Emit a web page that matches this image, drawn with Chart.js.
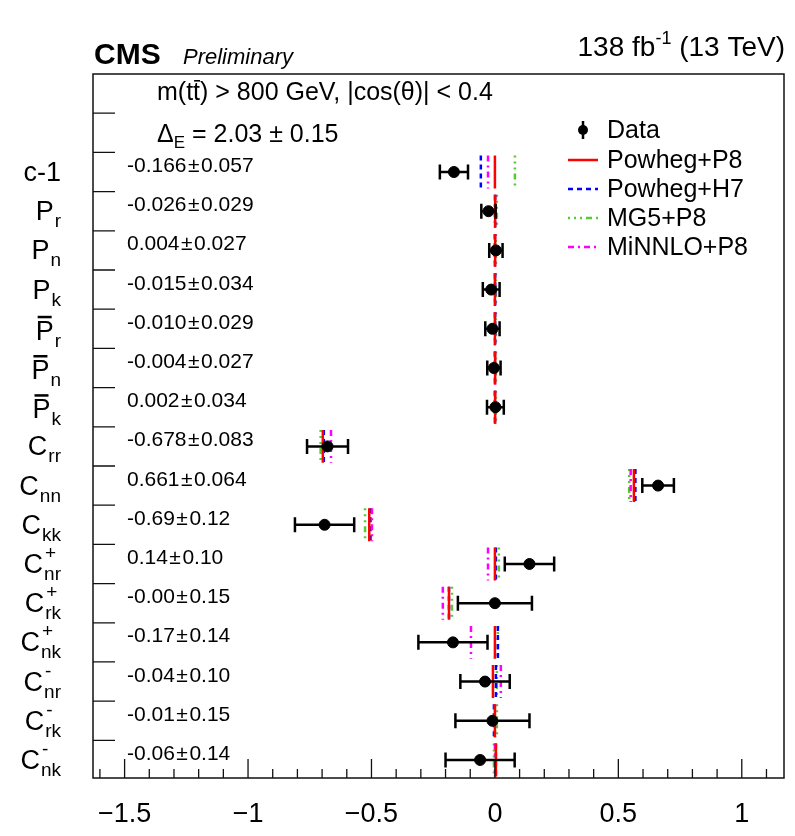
<!DOCTYPE html>
<html>
<head>
<meta charset="utf-8">
<script src="https://cdn.jsdelivr.net/npm/chart.js"></script>
<style>
  html, body { margin: 0; padding: 0; background: #fff; }
  #wrap { width: 795px; height: 836px; }
</style>
</head>
<body>
<div id="wrap"><canvas id="spinChart" width="795" height="836"></canvas></div>
<script>
// rows, top to bottom
const rowMain = ['c-1', 'P', 'P', 'P', 'P', 'P', 'P', 'C', 'C', 'C', 'C', 'C', 'C', 'C', 'C', 'C'];
const rowSub  = ['', 'r', 'n', 'k', 'r', 'n', 'k', 'rr', 'nn', 'kk', 'nr', 'rk', 'nk', 'nr', 'rk', 'nk'];
const rowSup  = ['', '', '', '', '', '', '', '', '', '', '+', '+', '+', '-', '-', '-'];
const rowBar  = [0, 0, 0, 0, 1, 1, 1, 0, 0, 0, 0, 0, 0, 0, 0, 0];

// measured values
const dataVal = [-0.166, -0.026, 0.004, -0.015, -0.010, -0.004, 0.002, -0.678, 0.661, -0.69, 0.14, -0.00, -0.17, -0.04, -0.01, -0.06];
const dataErr = [0.057, 0.029, 0.027, 0.034, 0.029, 0.027, 0.034, 0.083, 0.064, 0.12, 0.10, 0.15, 0.14, 0.10, 0.15, 0.14];
const dataText = ['-0.166', '-0.026', '0.004', '-0.015', '-0.010', '-0.004', '0.002', '-0.678', '0.661', '-0.69', '0.14', '-0.00', '-0.17', '-0.04', '-0.01', '-0.06'];
const errText  = ['0.057', '0.029', '0.027', '0.034', '0.029', '0.027', '0.034', '0.083', '0.064', '0.12', '0.10', '0.15', '0.14', '0.10', '0.15', '0.14'];

// MC predictions
const mcPowhegP8  = [0.000, 0.001, 0.001, 0.000, 0.000, 0.001, 0.001, -0.697, 0.563, -0.509, 0.000, -0.186, 0.000, -0.008, 0.000, 0.004];
const mcPowhegH7  = [-0.057, 0.001, 0.000, 0.001, 0.001, 0.000, 0.000, -0.693, 0.569, -0.504, 0.004, -0.186, 0.012, 0.004, -0.004, 0.004];
const mcMG5P8     = [0.081, 0.008, 0.004, 0.004, 0.004, 0.004, 0.004, -0.706, 0.544, -0.526, 0.016, -0.174, 0.012, 0.008, 0.008, -0.004];
const mcMiNNLOP8  = [-0.028, 0.000, 0.000, 0.000, 0.000, 0.000, 0.000, -0.664, 0.550, -0.498, -0.028, -0.211, -0.097, 0.024, 0.000, 0.000];

const xTickValues = [-1.5, -1, -0.5, 0, 0.5, 1];

const FONT = "'Liberation Sans', Arial, sans-serif";

function mcSegments(vals) {
  const pts = [];
  vals.forEach((v, i) => {
    pts.push({ x: v, y: i - 0.42 }, { x: v, y: i + 0.42 }, { x: v, y: null });
  });
  return pts;
}

function mcDataset(label, vals, color, dash, order) {
  return {
    label: label,
    data: mcSegments(vals),
    showLine: true,
    spanGaps: false,
    borderColor: color,
    borderWidth: 2.5,
    borderDash: dash,
    pointRadius: 0,
    order: order
  };
}

const datasets = [
  {
    label: 'Data',
    data: dataVal.map((v, i) => ({ x: v, y: i })),
    pointRadius: 5.5,
    pointBackgroundColor: '#000',
    pointBorderColor: '#000',
    showLine: false,
    order: 0
  },
  mcDataset('Powheg+P8', mcPowhegP8, '#ff0000', [], 1),
  mcDataset('Powheg+H7', mcPowhegH7, '#0000ff', [5, 4], 3),
  mcDataset('MG5+P8', mcMG5P8, '#55cc33', [2, 4, 2, 4, 2, 4, 6, 4], 4),
  mcDataset('MiNNLO+P8', mcMiNNLOP8, '#ff00ff', [6, 4, 2, 4], 2)
];

// error bars for the data points
const errorBars = {
  id: 'errorBars',
  afterDatasetsDraw(chart) {
    const { ctx, scales: { x, y } } = chart;
    ctx.save();
    ctx.strokeStyle = '#000';
    ctx.lineWidth = 2.5;
    dataVal.forEach((v, i) => {
      const yp = y.getPixelForValue(i);
      const x0 = x.getPixelForValue(v - dataErr[i]);
      const x1 = x.getPixelForValue(v + dataErr[i]);
      ctx.beginPath();
      ctx.moveTo(x0, yp); ctx.lineTo(x1, yp);
      ctx.moveTo(x0, yp - 7.5); ctx.lineTo(x0, yp + 7.5);
      ctx.moveTo(x1, yp - 7.5); ctx.lineTo(x1, yp + 7.5);
      ctx.stroke();
    });
    ctx.restore();
  }
};

// frame, inward ticks, row labels, texts and legend
const decorations = {
  id: 'decorations',
  afterDraw(chart) {
    const { ctx, chartArea: a, scales: { x, y } } = chart;
    ctx.save();

    // frame
    ctx.strokeStyle = '#111';
    ctx.lineWidth = 1.5;
    ctx.strokeRect(a.left, a.top, a.right - a.left, a.bottom - a.top);

    // x ticks (major every 0.5, minor every 0.1)
    ctx.lineWidth = 1.3;
    ctx.beginPath();
    for (let k = -16; k <= 11; k++) {
      const v = k / 10;
      const px = x.getPixelForValue(v);
      const len = (k % 5 === 0) ? 19 : 9;
      ctx.moveTo(px, a.bottom); ctx.lineTo(px, a.bottom - len);
    }
    // y ticks at the row boundaries
    for (let i = -1; i < rowMain.length; i++) {
      const py = y.getPixelForValue(i - 0.5);
      ctx.moveTo(a.left, py); ctx.lineTo(a.left + 22, py);
    }
    ctx.stroke();

    ctx.fillStyle = '#000';
    ctx.textBaseline = 'alphabetic';

    // row labels
    rowMain.forEach((m, i) => {
      const py = y.getPixelForValue(i);
      const base = py + 9 + (rowBar[i] ? 2 : 0);
      ctx.font = '27px ' + FONT;
      const mw = ctx.measureText(m).width;
      ctx.font = '19px ' + FONT;
      const sw = Math.max(ctx.measureText(rowSub[i]).width, ctx.measureText(rowSup[i]).width);
      const x0 = 61 - mw - sw - (sw > 0 ? 1 : 0);
      ctx.font = '27px ' + FONT;
      ctx.textAlign = 'left';
      ctx.fillText(m, x0, base);
      if (rowBar[i]) {
        ctx.fillRect(x0 + 2, base - 24, mw - 4, 2.5);
      }
      ctx.font = '19px ' + FONT;
      if (rowSub[i]) ctx.fillText(rowSub[i], x0 + mw + 1, base + 7);
      if (rowSup[i]) ctx.fillText(rowSup[i], x0 + mw + 2, base - 14);
    });

    // value texts
    ctx.font = '21px ' + FONT;
    dataText.forEach((t, i) => {
      const py = y.getPixelForValue(i);
      let tx = 127;
      ctx.fillText(t, tx, py);
      tx += ctx.measureText(t).width + 1.5;
      ctx.fillText('\u00b1', tx, py);
      tx += ctx.measureText('\u00b1').width + 1.5;
      ctx.fillText(errText[i], tx, py);
    });

    // header
    ctx.font = 'bold 30px ' + FONT;
    ctx.fillText('CMS', 94, 64);
    ctx.font = 'italic 22px ' + FONT;
    ctx.fillText('Preliminary', 183, 64);

    ctx.font = '28px ' + FONT;
    const p1 = '138 fb', p3 = ' (13 TeV)';
    const w1 = ctx.measureText(p1).width, w3 = ctx.measureText(p3).width;
    ctx.font = '18px ' + FONT;
    const p2 = '-1';
    const w2 = ctx.measureText(p2).width;
    let lx = 785 - w1 - w2 - w3;
    ctx.font = '28px ' + FONT;
    ctx.fillText(p1, lx, 56);
    ctx.font = '18px ' + FONT;
    ctx.fillText(p2, lx + w1, 44);
    ctx.font = '28px ' + FONT;
    ctx.fillText(p3, lx + w1 + w2, 56);

    // selection text
    ctx.font = '25px ' + FONT;
    let sx = 157;
    ctx.fillText('m(t', sx, 100);
    sx += ctx.measureText('m(t').width;
    const tw = ctx.measureText('t').width;
    ctx.fillText('t', sx, 100);
    ctx.fillRect(sx + 1, 80, tw - 1, 1.6);
    sx += tw;
    ctx.fillText(') > 800 GeV, |cos(\u03b8)| < 0.4', sx, 100);

    ctx.font = '25px ' + FONT;
    ctx.fillText('\u0394', 157, 142);
    const dw = ctx.measureText('\u0394').width;
    ctx.font = '17px ' + FONT;
    ctx.fillText('E', 157 + dw, 148);
    const ew = ctx.measureText('E').width;
    ctx.font = '25px ' + FONT;
    ctx.fillText(' = 2.03 \u00b1 0.15', 157 + dw + ew, 142);

    // legend
    const legY = [130, 160, 189, 218, 247];
    ctx.font = '25px ' + FONT;
    ctx.textBaseline = 'middle';
    chart.data.datasets.forEach((ds, k) => {
      const ly = legY[k];
      if (k === 0) {
        ctx.beginPath();
        ctx.lineWidth = 2.5;
        ctx.strokeStyle = '#000';
        ctx.moveTo(583, ly - 9); ctx.lineTo(583, ly + 9);
        ctx.stroke();
        ctx.beginPath();
        ctx.arc(583, ly, 5, 0, Math.PI * 2);
        ctx.fill();
      } else {
        ctx.beginPath();
        ctx.lineWidth = 2.5;
        ctx.strokeStyle = ds.borderColor;
        ctx.setLineDash(ds.borderDash);
        ctx.moveTo(568, ly); ctx.lineTo(598, ly);
        ctx.stroke();
        ctx.setLineDash([]);
      }
      ctx.fillStyle = '#000';
      ctx.fillText(ds.label, 607, ly + 1);
    });

    ctx.restore();
  }
};

new Chart(document.getElementById('spinChart'), {
  type: 'scatter',
  data: { datasets: datasets },
  options: {
    responsive: false,
    animation: false,
    devicePixelRatio: 1,
    layout: { padding: { left: 93, right: 11, top: 74, bottom: 0 } },
    plugins: {
      legend: { display: false },
      tooltip: { enabled: false }
    },
    scales: {
      x: {
        type: 'linear',
        min: -1.628,
        max: 1.171,
        grid: { display: false, drawTicks: false },
        border: { display: false },
        afterBuildTicks(scale) {
          scale.ticks = xTickValues.map(v => ({ value: v }));
        },
        afterFit(scale) { scale.height = 58; },
        ticks: {
          padding: 20,
          color: '#000',
          font: { family: FONT, size: 27 },
          callback: v => (v < 0 ? '\u2212' + String(-v) : String(v))
        }
      },
      y: {
        type: 'linear',
        display: false,
        reverse: true,
        min: -2.5,
        max: 15.46
      }
    }
  },
  plugins: [errorBars, decorations]
});
</script>
</body>
</html>
